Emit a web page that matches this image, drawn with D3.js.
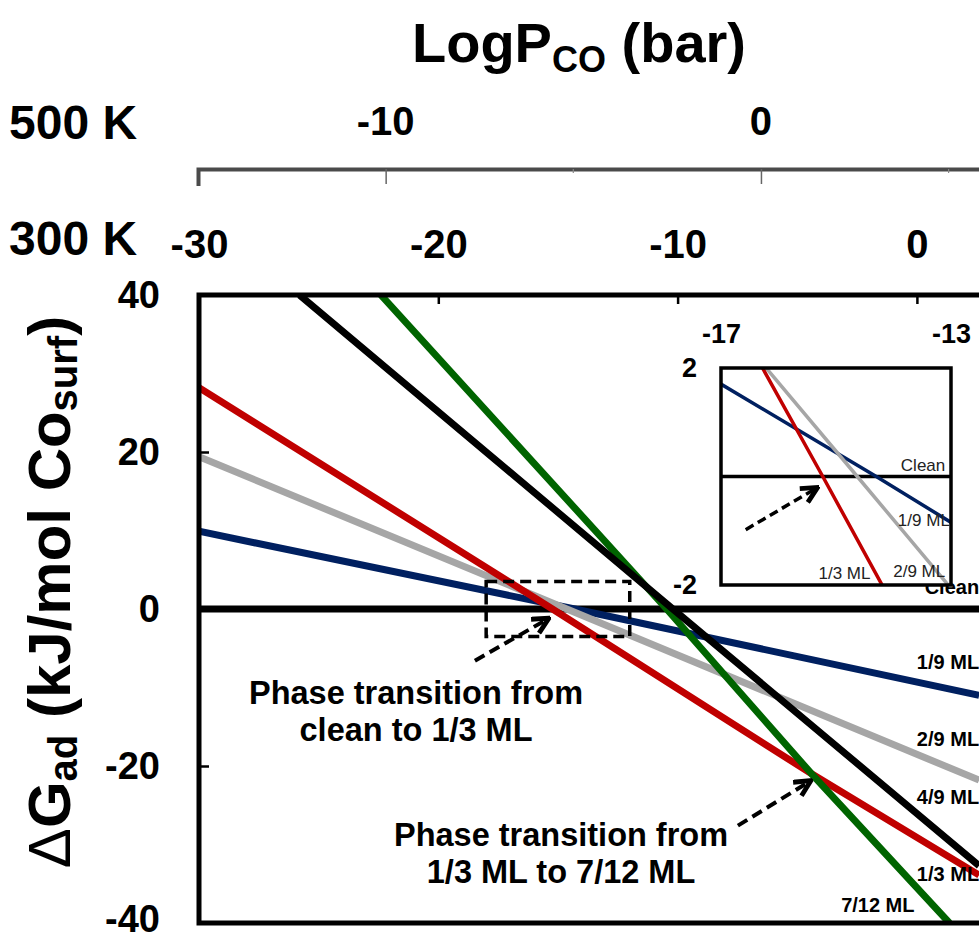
<!DOCTYPE html>
<html>
<head>
<meta charset="utf-8">
<script src="https://cdn.jsdelivr.net/npm/d3@7"></script>
<style>
  body { margin: 0; background: #fff; }
  svg { display: block; font-family: "Liberation Sans", Arial, sans-serif; }
</style>
</head>
<body>
<svg id="chart" width="979" height="938"></svg>
<script>
// ---- data (x = log P_CO at 300 K, y = dG_ad in kJ/mol) ----
const ticks300 = [-30, -20, -10, 0];
const ticks500 = [-10, 0];
const minor500 = [-5, 5];
const yTicks = [-40, -20, 0, 20, 40];
const insetXTicks = [-17, -13];
const insetYTicks = [-2, 2];

const clean  = [[-30, 0], [3, 0]];
const ml1_9  = [[-30, 9.9], [-14.3, 0], [2.6, -11.0]];
const ml2_9  = [[-30, 19.4], [-14.63, 0], [2.6, -21.8]];
const ml1_3  = [[-30, 28.2], [-15.23, 0], [-4.4, -21.0], [2.6, -33.9]];
const ml7_12 = [[-22.4, 40], [-10.46, 0], [-4.4, -21.0], [1.36, -40]];
const ml4_9  = [[-25.8, 40], [-10.2, 0], [2.6, -32.7]];

// draw order follows the figure (later on top)
const series = [
  { name: "1/9 ML",  values: ml1_9,  color: "#002060" },
  { name: "2/9 ML",  values: ml2_9,  color: "#a6a6a6" },
  { name: "1/3 ML",  values: ml1_3,  color: "#c00000" },
  { name: "7/12 ML", values: ml7_12, color: "#006400" },
  { name: "4/9 ML",  values: ml4_9,  color: "#000000" }
];

// label anchors on the right side [x, y] in data units
const mainLabels = [
  { text: "Clean",   pos: [2.6, 1.9] },
  { text: "1/9 ML",  pos: [2.6, -7.6] },
  { text: "2/9 ML",  pos: [2.6, -17.4] },
  { text: "4/9 ML",  pos: [2.6, -24.8] },
  { text: "1/3 ML",  pos: [2.6, -34.6] },
  { text: "7/12 ML", pos: [-0.1, -38.6] }
];
const insetLabels = [
  { text: "Clean",  pos: [-13.1, 0.11] },
  { text: "1/9 ML", pos: [-13.02, -0.92] },
  { text: "2/9 ML", pos: [-13.1, -1.85] },
  { text: "1/3 ML", pos: [-14.4, -1.89] }
];

const svg = d3.select("#chart");
const font = '"Liberation Sans", Arial, sans-serif';
const fmt = d => String(d); // plain hyphen minus, as in the figure

// ---- scales ----
const x = d3.scaleLinear().domain([-30, 5]).range([199, 199 + 35 * 23.93]);
const x500 = d3.scaleLinear().domain([-15, 6]).range([198, 198 + 21 * 37.53]);
const y = d3.scaleLinear().domain([-40, 40]).range([923, 295]);

const xi = d3.scaleLinear().domain([-17, -13]).range([721, 951]);
const yi = d3.scaleLinear().domain([-2, 2]).range([585, 368]);

// arrow marker
const defs = svg.append("defs");
defs.append("marker")
  .attr("id", "arrow")
  .attr("viewBox", "0 0 10 10")
  .attr("refX", 8).attr("refY", 5)
  .attr("markerWidth", 20).attr("markerHeight", 20)
  .attr("markerUnits", "userSpaceOnUse")
  .attr("orient", "auto")
  .append("path")
  .attr("d", "M1,1 L9,5 L1,9")
  .attr("fill", "none")
  .attr("stroke", "#000")
  .attr("stroke-width", 2.4);

defs.append("clipPath").attr("id", "plotClip")
  .append("rect").attr("x", 199).attr("y", 295).attr("width", 900).attr("height", 628);
defs.append("clipPath").attr("id", "insetClip")
  .append("rect").attr("x", 721).attr("y", 368).attr("width", 230).attr("height", 217);

// ---- title ----
const title = svg.append("text")
  .attr("x", 412).attr("y", 62)
  .style("font-size", "56px").style("font-weight", "bold");
title.append("tspan").text("LogP");
title.append("tspan").attr("dy", 10).style("font-size", "36px").text("CO");
title.append("tspan").attr("dy", -10).text(" (bar)");

// ---- temperature labels ----
svg.append("text").attr("x", 9).attr("y", 139)
  .style("font-size", "48px").style("font-weight", "bold").text("500 K");
svg.append("text").attr("x", 9).attr("y", 255)
  .style("font-size", "48px").style("font-weight", "bold").text("300 K");

// ---- 500 K axis ----
const ax500 = svg.append("g").attr("transform", "translate(0,169)")
  .call(d3.axisBottom(x500).tickValues(ticks500).tickSize(15).tickSizeOuter(17).tickFormat(""));
ax500.select(".domain").attr("stroke", "#4a4a4a").attr("stroke-width", 4);
ax500.selectAll(".tick line").attr("stroke", "#666").attr("stroke-width", 1.5);
ax500.selectAll(".minor").data(minor500).enter().append("line")
  .attr("x1", d => x500(d)).attr("x2", d => x500(d))
  .attr("y1", 0).attr("y2", 4)
  .attr("stroke", "#888").attr("stroke-width", 1.2);
svg.append("g").selectAll("text").data(ticks500).enter().append("text")
  .attr("x", d => x500(d)).attr("y", 135)
  .attr("text-anchor", "middle")
  .style("font-size", "40px").style("font-weight", "bold")
  .text(fmt);

// ---- plot: lines ----
const line = d3.line().x(d => x(d[0])).y(d => y(d[1]));
const plot = svg.append("g").attr("clip-path", "url(#plotClip)");

plot.append("path").datum(clean)
  .attr("d", line).attr("fill", "none")
  .attr("stroke", "#000").attr("stroke-width", 7);

plot.selectAll(".series").data(series).enter().append("path")
  .attr("class", "series")
  .attr("d", d => line(d.values))
  .attr("fill", "none")
  .attr("stroke", d => d.color)
  .attr("stroke-width", 7);

// dashed zoom box
svg.append("rect")
  .attr("x", x(-18)).attr("y", y(3.5))
  .attr("width", x(-12) - x(-18)).attr("height", y(-3.5) - y(3.5))
  .attr("fill", "none").attr("stroke", "#000")
  .attr("stroke-width", 3.5).attr("stroke-dasharray", "11,6");

// ---- frame + axes ----
svg.append("rect")
  .attr("x", 199).attr("y", 295).attr("width", 900).attr("height", 628)
  .attr("fill", "none").attr("stroke", "#000").attr("stroke-width", 5);

const axTop = svg.append("g").attr("transform", "translate(0,295)")
  .call(d3.axisTop(x).tickValues(ticks300).tickFormat(fmt)
    .tickSizeInner(-9).tickSizeOuter(0).tickPadding(37));
axTop.select(".domain").remove();
axTop.selectAll(".tick line").attr("stroke", "#000").attr("stroke-width", 2.5);
axTop.selectAll("text").style("font-size", "40px").style("font-weight", "bold")
  .style("font-family", font).attr("fill", "#000");

const axLeft = svg.append("g").attr("transform", "translate(199,0)")
  .call(d3.axisLeft(y).tickValues(yTicks).tickFormat(fmt)
    .tickSizeInner(-10).tickSizeOuter(0).tickPadding(39));
axLeft.select(".domain").remove();
axLeft.selectAll(".tick line").attr("stroke", "#000").attr("stroke-width", 2.5);
axLeft.selectAll("text").style("font-size", "38px").style("font-weight", "bold")
  .style("font-family", font).attr("fill", "#000")
  .attr("dy", d => d === -40 ? "0.22em" : "0.32em");

// y title
const yTitle = svg.append("text")
  .attr("transform", "translate(70,592) rotate(-90)")
  .attr("text-anchor", "middle")
  .style("font-size", "60px").style("font-weight", "bold");
yTitle.append("tspan").style("font-weight", "normal").text("\u0394");
yTitle.append("tspan").text("G");
yTitle.append("tspan").attr("dy", 7).style("font-size", "40px").text("ad");
yTitle.append("tspan").attr("dy", -7).text(" (kJ/mol Co");
yTitle.append("tspan").attr("dy", 7).style("font-size", "40px").text("surf");
yTitle.append("tspan").attr("dy", -7).text(")");

// series labels (right side)
svg.append("g").selectAll("text").data(mainLabels).enter().append("text")
  .attr("x", d => x(d.pos[0])).attr("y", d => y(d.pos[1]))
  .attr("text-anchor", "end")
  .style("font-size", "20px").style("font-weight", "bold")
  .text(d => d.text);

// ---- annotations ----
function arrow(from, to) {
  svg.append("line")
    .attr("x1", x(from[0])).attr("y1", y(from[1]))
    .attr("x2", x(to[0])).attr("y2", y(to[1]))
    .attr("stroke", "#000").attr("stroke-width", 4)
    .attr("stroke-dasharray", "11,6")
    .attr("marker-end", "url(#arrow)");
}
arrow([-18.47, -6.6], [-15.45, -1.3]);
arrow([-7.48, -27.6], [-4.5, -22.0]);

const notes = [
  { lines: ["Phase transition from", "clean to 1/3 ML"], pos: [-20.93, -12.1] },
  { lines: ["Phase transition from", "1/3 ML to 7/12 ML"], pos: [-14.87, -30.2] }
];
notes.forEach(n => {
  const t = svg.append("text")
    .attr("text-anchor", "middle")
    .style("font-size", "32.5px").style("font-weight", "bold");
  n.lines.forEach((l, i) => {
    t.append("tspan").attr("x", x(n.pos[0]))
      .attr("y", y(n.pos[1]) + i * 37).text(l);
  });
});

// ---- inset ----
const inset = svg.append("g");
inset.append("rect")
  .attr("x", 721).attr("y", 368).attr("width", 230).attr("height", 217)
  .attr("fill", "#fff");

const iline = d3.line().x(d => xi(d[0])).y(d => yi(d[1]));
const insetPlot = inset.append("g").attr("clip-path", "url(#insetClip)");
insetPlot.append("path").datum(clean)
  .attr("d", iline).attr("fill", "none")
  .attr("stroke", "#000").attr("stroke-width", 3.5);
insetPlot.selectAll(".iseries").data(series).enter().append("path")
  .attr("d", d => iline(d.values))
  .attr("fill", "none")
  .attr("stroke", d => d.color)
  .attr("stroke-width", 3.5);

inset.append("rect")
  .attr("x", 721).attr("y", 368).attr("width", 230).attr("height", 217)
  .attr("fill", "none").attr("stroke", "#000").attr("stroke-width", 3.5);

inset.selectAll(".ilab").data(insetLabels).enter().append("text")
  .attr("x", d => xi(d.pos[0])).attr("y", d => yi(d.pos[1]))
  .attr("text-anchor", "end")
  .attr("fill", "#222")
  .style("font-size", "17px")
  .text(d => d.text);

const ixAxis = inset.append("g").attr("transform", "translate(0,368)")
  .call(d3.axisTop(xi).tickValues(insetXTicks).tickFormat(fmt).tickSize(0).tickPadding(25));
ixAxis.select(".domain").remove();
ixAxis.selectAll("text").style("font-size", "27px").style("font-weight", "bold")
  .style("font-family", font).attr("fill", "#000");

const iyAxis = inset.append("g").attr("transform", "translate(721,0)")
  .call(d3.axisLeft(yi).tickValues(insetYTicks).tickFormat(fmt).tickSize(0).tickPadding(24));
iyAxis.select(".domain").remove();
iyAxis.selectAll("text").style("font-size", "27px").style("font-weight", "bold")
  .style("font-family", font).attr("fill", "#000");

// inset arrow
inset.append("line")
  .attr("x1", xi(-16.57)).attr("y1", yi(-0.98))
  .attr("x2", xi(-15.35)).attr("y2", yi(-0.22))
  .attr("stroke", "#000").attr("stroke-width", 3.5)
  .attr("stroke-dasharray", "9,5")
  .attr("marker-end", "url(#arrow)");
</script>
</body>
</html>
